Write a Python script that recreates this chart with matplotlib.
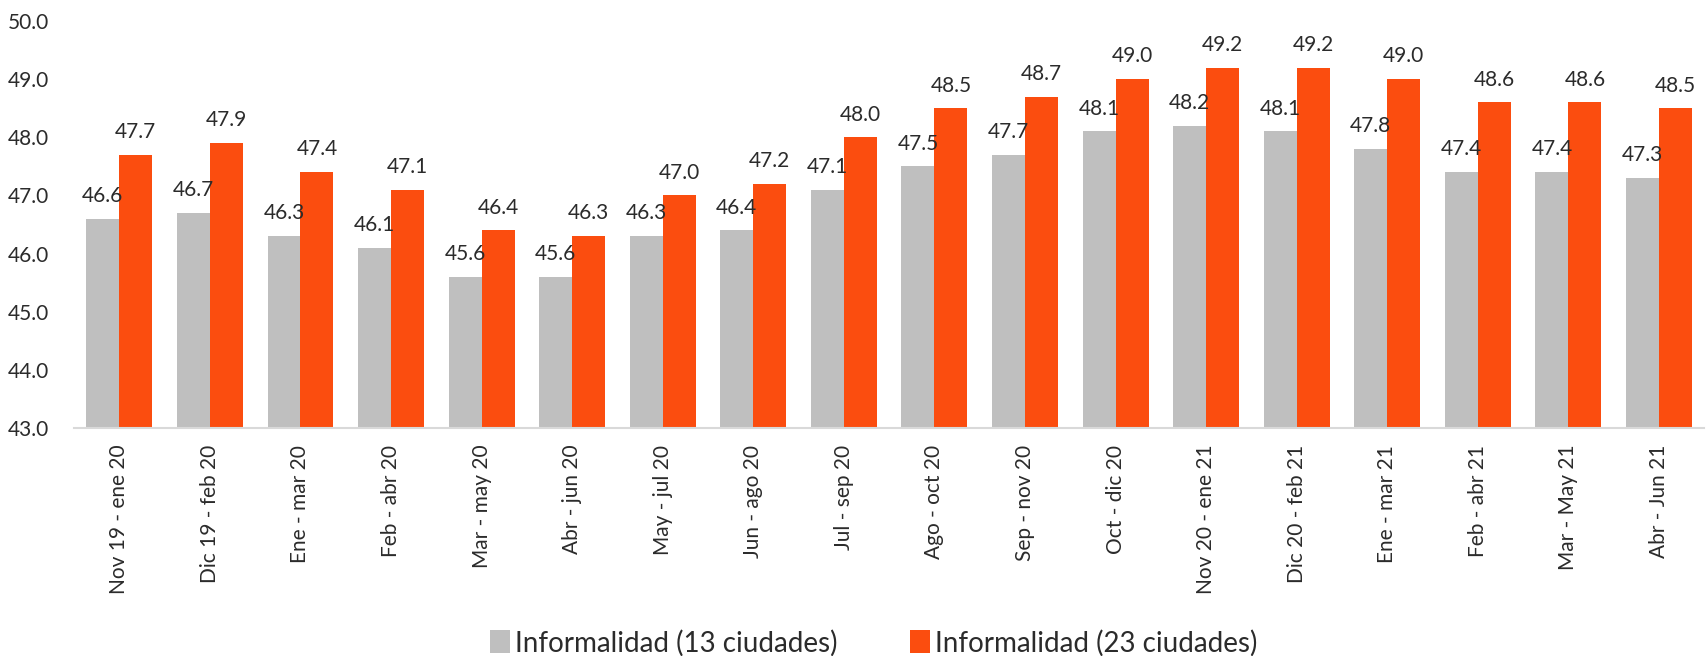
import matplotlib
matplotlib.use("Agg")
import matplotlib.pyplot as plt
import numpy as np

categories = ["Nov 19 - ene 20", "Dic 19 - feb 20", "Ene - mar 20", "Feb - abr 20",
              "Mar - may 20", "Abr - jun 20", "May - jul 20", "Jun - ago 20",
              "Jul - sep 20", "Ago - oct 20", "Sep - nov 20", "Oct - dic 20",
              "Nov 20 - ene 21", "Dic 20 - feb 21", "Ene - mar 21", "Feb - abr 21",
              "Mar - May 21", "Abr - Jun 21"]
informalidad_13 = [46.6, 46.7, 46.3, 46.1, 45.6, 45.6, 46.3, 46.4, 47.1, 47.5,
                   47.7, 48.1, 48.2, 48.1, 47.8, 47.4, 47.4, 47.3]
informalidad_23 = [47.7, 47.9, 47.4, 47.1, 46.4, 46.3, 47.0, 47.2, 48.0, 48.5,
                   48.7, 49.0, 49.2, 49.2, 49.0, 48.6, 48.6, 48.5]
series_names = ["Informalidad (13 ciudades)", "Informalidad (23 ciudades)"]
yticks = [43.0, 44.0, 45.0, 46.0, 47.0, 48.0, 49.0, 50.0]

plt.rcParams['font.family'] = ['Lato', 'DejaVu Sans']
plt.rcParams['font.weight'] = 'normal'

fig = plt.figure(figsize=(17.07, 6.56), dpi=100)
ax = fig.add_axes([0.0434, 0.3476, 0.955, 0.6204])

x = np.arange(len(categories))
w = 0.364
grey = "#bfbfbf"
orange = "#fb4d0f"
txt = "#2b2b2b"

b1 = ax.bar(x - w / 2, informalidad_13, width=w, color=grey, label=series_names[0])
b2 = ax.bar(x + w / 2, informalidad_23, width=w, color=orange, label=series_names[1])

for bars, vals in ((b1, informalidad_13), (b2, informalidad_23)):
    for r, v in zip(bars, vals):
        ax.annotate(f"{v:.1f}", (r.get_x() + r.get_width() / 2, v),
                    xytext=(0, 12), textcoords="offset points",
                    ha="center", va="baseline", fontsize=15, color=txt)

ax.set_ylim(43, 50)
ax.set_xlim(-0.5, len(categories) - 0.5)
ax.set_yticks(yticks)
ax.set_yticklabels([f"{t:.1f}" for t in yticks], fontsize=15, color=txt)
ax.set_xticks(x)
ax.set_xticklabels(categories, rotation=90, fontsize=15, color=txt)
ax.tick_params(axis='both', length=0)
ax.tick_params(axis='x', pad=12)
ax.tick_params(axis='y', pad=18)
for s in ("top", "right", "left"):
    ax.spines[s].set_visible(False)
ax.spines["bottom"].set_color("#d9d9d9")
ax.spines["bottom"].set_linewidth(1.5)

leg = fig.legend(handles=[b1, b2], labels=series_names, loc="center",
                 bbox_to_anchor=(0.512, 0.02), ncol=2, frameon=False,
                 fontsize=20, handlelength=0.7, handleheight=0.9,
                 handletextpad=0.2, columnspacing=2.6)
for t in leg.get_texts():
    t.set_color(txt)

fig.savefig("out.png", dpi=100)
